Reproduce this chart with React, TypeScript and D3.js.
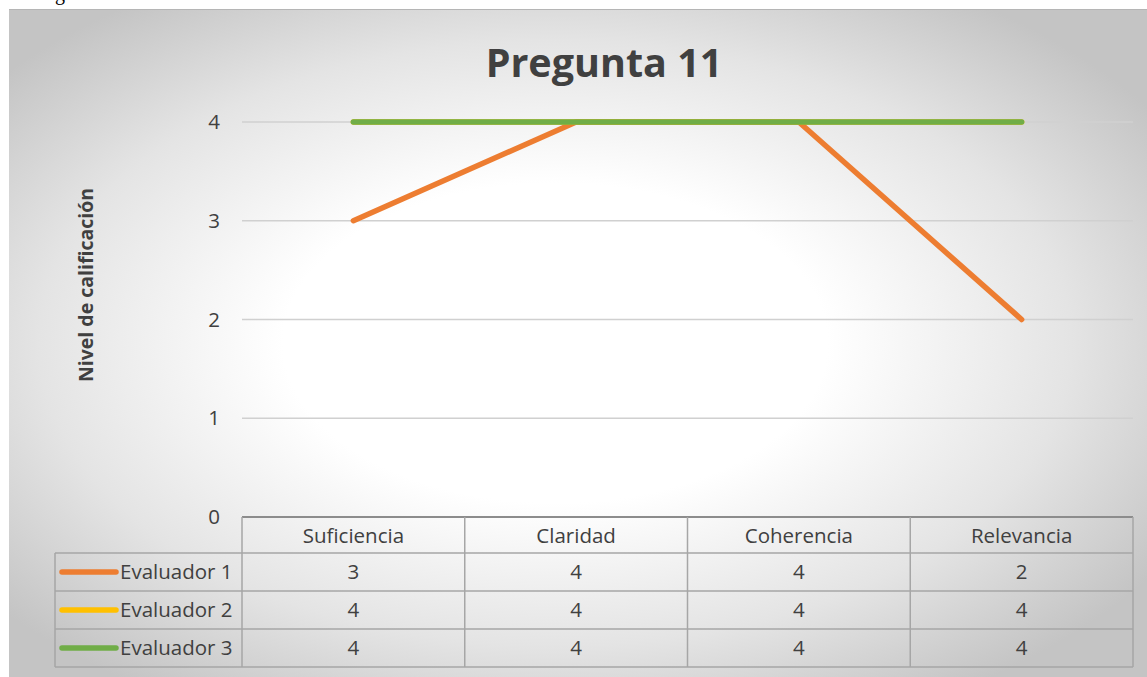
import React from "react";
import * as d3 from "d3";

const categories = ["Suficiencia", "Claridad", "Coherencia", "Relevancia"];
const seriesNames = ["Evaluador 1", "Evaluador 2", "Evaluador 3"];
const evaluador1 = [3, 4, 4, 2];
const evaluador2 = [4, 4, 4, 4];
const evaluador3 = [4, 4, 4, 4];
const seriesValues = [evaluador1, evaluador2, evaluador3];
const seriesColors = ["#ED7D31", "#FFC000", "#70AD47"];
const yTicks = [0, 1, 2, 3, 4];

const W = 1147;
const H = 677;
const plotLeft = 242;
const plotRight = 1133;
const plotTop = 122;
const plotBottom = 517;
const headerH = 36;
const rowH = 38;
const legendLeft = 55;
const FONT = "'Open Sans', 'Noto Sans', sans-serif";
const FS = 20.5;

export default function App() {
  const x = d3.scaleBand<string>().domain(categories).range([plotLeft, plotRight]);
  const y = d3.scaleLinear().domain([0, 4]).range([plotBottom, plotTop]);
  const line = d3
    .line<number>()
    .x((_, i) => (x(categories[i]) as number) + x.bandwidth() / 2)
    .y((d) => y(d));

  const tableTop = plotBottom;
  const tableBottom = tableTop + headerH + rowH * seriesNames.length;
  const gridColor = "#a6a6a6";

  return (
    <svg
      width={W}
      height={H}
      style={{ position: "fixed", left: 0, top: 0, background: "#fff" }}
    >
      <defs>
        <radialGradient id="bg" cx="0.48" cy="0.5" r="0.63" fx="0.48" fy="0.5">
          <stop offset="0" stopColor="#ffffff" />
          <stop offset="0.38" stopColor="#ffffff" />
          <stop offset="0.72" stopColor="#e4e4e4" />
          <stop offset="1" stopColor="#c4c4c4" />
        </radialGradient>
      </defs>
      <text x={55} y={0} fontFamily="serif" fontSize={20} fill="#000">g</text>
      <rect x={9} y={9} width={W - 9} height={H - 9} fill="url(#bg)" />
      <line x1={9} x2={W} y1={9.5} y2={9.5} stroke="#b5b5b5" strokeWidth={1} />

      {/* title */}
      <text
        x={604}
        y={77}
        textAnchor="middle"
        fontFamily={FONT}
        fontWeight="bold"
        fontSize={39.5}
        fill="#404040"
      >
        Pregunta 11
      </text>

      {/* y axis title */}
      <text
        transform="translate(93,285) rotate(-90)"
        textAnchor="middle"
        fontFamily={FONT}
        fontWeight="bold"
        fontSize={19.5}
        fill="#404040"
      >
        Nivel de calificación
      </text>

      {/* gridlines */}
      {yTicks.filter((t) => t > 0).map((t) => (
        <line
          key={t}
          x1={plotLeft}
          x2={plotRight}
          y1={y(t)}
          y2={y(t)}
          stroke="#d0d0d0"
          strokeWidth={1.3}
        />
      ))}
      {yTicks.map((t) => (
        <text
          key={"l" + t}
          x={220}
          y={y(t)}
          dy="0.35em"
          textAnchor="end"
          fontFamily={FONT}
          fontSize={FS}
          fill="#404040"
        >
          {t}
        </text>
      ))}

      {/* series */}
      {seriesValues.map((vals, si) => (
        <path
          key={si}
          d={line(vals) as string}
          fill="none"
          stroke={seriesColors[si]}
          strokeWidth={5.5}
          strokeLinecap="round"
          strokeLinejoin="round"
        />
      ))}

      {/* data table */}
      <g stroke={gridColor} strokeWidth={1.5} fill="none">
        <line x1={plotLeft} x2={plotRight} y1={tableTop} y2={tableTop} stroke="#8c8c8c" strokeWidth={2} />
        {seriesNames.map((_, i) => (
          <line
            key={"h" + i}
            x1={legendLeft}
            x2={plotRight}
            y1={tableTop + headerH + rowH * i}
            y2={tableTop + headerH + rowH * i}
          />
        ))}
        <line x1={legendLeft} x2={plotRight} y1={tableBottom} y2={tableBottom} />
        <line x1={legendLeft} x2={legendLeft} y1={tableTop + headerH} y2={tableBottom} />
        {categories.map((c) => (
          <line
            key={"v" + c}
            x1={x(c) as number}
            x2={x(c) as number}
            y1={tableTop}
            y2={tableBottom}
          />
        ))}
        <line x1={plotRight} x2={plotRight} y1={tableTop} y2={tableBottom} />
      </g>

      {categories.map((c) => (
        <text
          key={"c" + c}
          x={(x(c) as number) + x.bandwidth() / 2}
          y={tableTop + headerH / 2 + 1}
          dy="0.35em"
          textAnchor="middle"
          fontFamily={FONT}
          fontSize={FS}
          fill="#404040"
        >
          {c}
        </text>
      ))}

      {seriesNames.map((name, si) => {
        const cy = tableTop + headerH + rowH * si + rowH / 2;
        return (
          <g key={"r" + si}>
            <line
              x1={62}
              x2={116}
              y1={cy}
              y2={cy}
              stroke={seriesColors[si]}
              strokeWidth={5.5}
              strokeLinecap="round"
            />
            <text
              x={120}
              y={cy}
              dy="0.35em"
              fontFamily={FONT}
              fontSize={FS}
              fill="#404040"
            >
              {name}
            </text>
            {seriesValues[si].map((v, ci) => (
              <text
                key={ci}
                x={(x(categories[ci]) as number) + x.bandwidth() / 2}
                y={cy}
                dy="0.35em"
                textAnchor="middle"
                fontFamily={FONT}
                fontSize={FS}
                fill="#404040"
              >
                {v}
              </text>
            ))}
          </g>
        );
      })}
    </svg>
  );
}
